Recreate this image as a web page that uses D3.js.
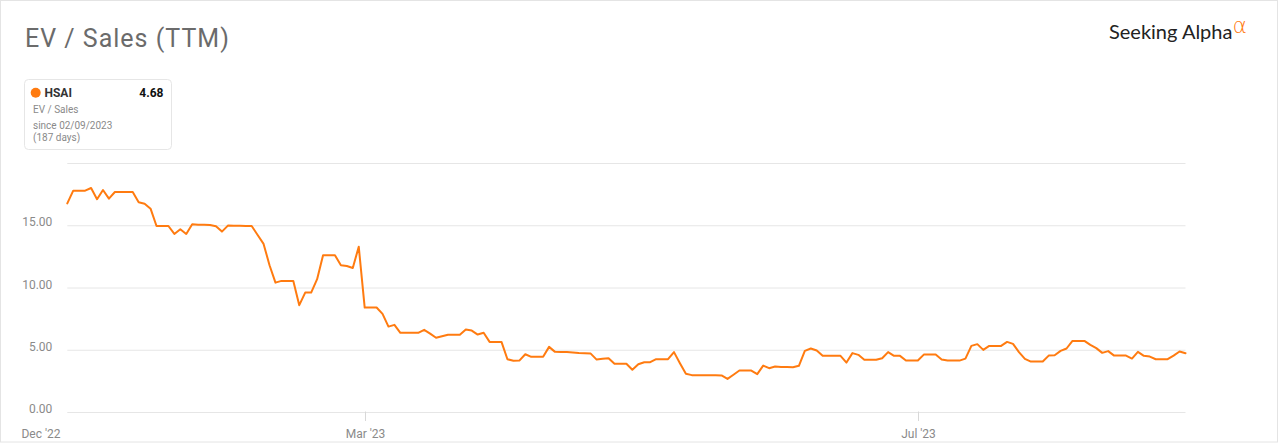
<!DOCTYPE html>
<html>
<head>
<meta charset="utf-8">
<script src="https://cdn.jsdelivr.net/npm/d3@7"></script>
<style>
  html, body { margin: 0; padding: 0; background: #fff; }
  svg { display: block; font-family: Roboto, "Noto Sans", Arial, sans-serif; }
</style>
</head>
<body>
<svg id="chart" width="1280" height="443"></svg>
<script>
// ---- data ----
const seriesName = "HSAI";
const lastValue = "4.68";
const metricLabel = "EV / Sales";
const sinceLabel = "since 02/09/2023";
const daysLabel = "(187 days)";
const title = "EV / Sales (TTM)";

const values = [
  16.72, 17.74, 17.74, 17.74, 17.95, 17.05, 17.79, 17.10, 17.63, 17.63,
  17.63, 17.63, 16.80, 16.69, 16.29, 14.90, 14.90, 14.90, 14.26, 14.64,
  14.26, 15.04, 15.00, 15.00, 14.98, 14.88, 14.45, 14.93, 14.92, 14.92,
  14.90, 14.90, 14.18, 13.46, 11.75, 10.35, 10.49, 10.49, 10.49, 8.54,
  9.55, 9.55, 10.63, 12.55, 12.55, 12.55, 11.75, 11.69, 11.53, 13.24,
  8.35, 8.35, 8.35, 7.84, 6.82, 6.96, 6.32, 6.32, 6.32, 6.32,
  6.56, 6.26, 5.92, 6.04, 6.16, 6.16, 6.16, 6.58, 6.50, 6.18,
  6.32, 5.59, 5.59, 5.59, 4.20, 4.07, 4.09, 4.60, 4.39, 4.39,
  4.39, 5.19, 4.79, 4.78, 4.77, 4.73, 4.69, 4.67, 4.65, 4.17,
  4.23, 4.28, 3.83, 3.83, 3.83, 3.35, 3.80, 3.96, 3.96, 4.20,
  4.20, 4.20, 4.77, 3.88, 3.03, 2.92, 2.92, 2.92, 2.92, 2.92,
  2.90, 2.62, 2.95, 3.29, 3.29, 3.29, 3.00, 3.69, 3.48, 3.61,
  3.58, 3.57, 3.56, 3.67, 4.87, 5.06, 4.90, 4.47, 4.47, 4.47,
  4.47, 3.93, 4.69, 4.55, 4.15, 4.15, 4.15, 4.28, 4.77, 4.47,
  4.47, 4.09, 4.09, 4.09, 4.57, 4.57, 4.57, 4.17, 4.09, 4.09,
  4.09, 4.25, 5.27, 5.41, 4.95, 5.27, 5.27, 5.27, 5.59, 5.43,
  4.77, 4.23, 4.01, 4.01, 4.01, 4.49, 4.52, 4.87, 5.06, 5.67,
  5.67, 5.67, 5.35, 5.09, 4.71, 4.85, 4.49, 4.49, 4.49, 4.25,
  4.79, 4.47, 4.41, 4.20, 4.20, 4.20, 4.49, 4.82, 4.68
];

const xTickLabels = ["Dec '22", "Mar '23", "Jul '23"];
const xTickIndex = [0, 50, 143];
const yTicks = [0, 5, 10, 15, 20];
const yTickLabels = ["0.00", "5.00", "10.00", "15.00", ""];

// ---- layout ----
const svg = d3.select("#chart");
const W = 1280, H = 443;
const plot = { left: 67.3, right: 1185.5, top: 162.5, bottom: 411.5 };
const orange = "#ff7b10";

svg.append("rect")
  .attr("x", 0.5).attr("y", 0.5).attr("width", W - 3).attr("height", H - 1.5)
  .attr("fill", "#fff").attr("stroke", "#e4e4e4");

const x = d3.scaleLinear().domain([0, values.length - 1]).range([plot.left, plot.right]);
const y = d3.scaleLinear().domain([0, 20]).range([plot.bottom, plot.top]);

// gridlines + y labels
const yAxis = d3.axisLeft(y).tickValues(yTicks)
  .tickSize(-(plot.right - plot.left))
  .tickPadding(15)
  .tickFormat((d, i) => yTickLabels[i]);
const gy = svg.append("g").attr("transform", `translate(${plot.left},0)`).call(yAxis);
gy.select(".domain").remove();
gy.selectAll(".tick line").attr("stroke", "#e6e6e6").attr("stroke-width", 1)
  .attr("transform", "translate(0,0.5)");
gy.selectAll(".tick text").attr("fill", "#8a8a8a").style("font-size", "12px")
  .style("font-family", "Roboto, sans-serif").attr("dy", "0.1em");

// x axis
const gx = svg.append("g").attr("transform", `translate(0,${plot.bottom})`);
xTickIndex.forEach((idx, i) => {
  const px = Math.round(x(idx)) + 0.5;
  if (i > 0) {
    gx.append("line").attr("x1", px).attr("x2", px).attr("y1", 0).attr("y2", 9.5)
      .attr("stroke", "#d8d8d8");
  }
  gx.append("text")
    .attr("x", i === 0 ? px - 7 : px)
    .attr("y", 26)
    .attr("text-anchor", i === 0 ? "end" : "middle")
    .attr("fill", "#8a8a8a")
    .style("font-size", "12px")
    .text(xTickLabels[i]);
});

// line
const line = d3.line().x((d, i) => x(i)).y(d => y(d)).curve(d3.curveLinear);
svg.append("path").datum(values)
  .attr("d", line)
  .attr("fill", "none")
  .attr("stroke", orange)
  .attr("stroke-width", 2)
  .attr("stroke-linejoin", "round")
  .attr("stroke-linecap", "round");

// title
svg.append("text").attr("x", 25).attr("y", 47)
  .attr("fill", "#6b6b6b")
  .style("font-size", "25px")
  .style("letter-spacing", "1px")
  .text(title);

// legend box
const lg = svg.append("g");
lg.append("rect").attr("x", 24.5).attr("y", 79.5).attr("width", 147).attr("height", 70)
  .attr("rx", 4).attr("fill", "#fff").attr("stroke", "#e6e6e6");
lg.append("circle").attr("cx", 35.7).attr("cy", 92.7).attr("r", 5).attr("fill", orange);
lg.append("text").attr("x", 44.5).attr("y", 97).attr("fill", "#333")
  .style("font-size", "12px").style("font-weight", "700").text(seriesName);
lg.append("text").attr("x", 163.5).attr("y", 97).attr("text-anchor", "end").attr("fill", "#111")
  .style("font-size", "12px").style("font-weight", "700").text(lastValue);
lg.append("text").attr("x", 33).attr("y", 113.3).attr("fill", "#8a8a8a")
  .style("font-size", "10px").text(metricLabel);
lg.append("text").attr("x", 33).attr("y", 129).attr("fill", "#8a8a8a")
  .style("font-size", "10px").text(sinceLabel);
lg.append("text").attr("x", 33).attr("y", 140.5).attr("fill", "#8a8a8a")
  .style("font-size", "10px").text(daysLabel);

// logo
const logo = svg.append("g");
logo.append("text").attr("x", 1109).attr("y", 38.5).attr("fill", "#222")
  .style("font-size", "20px").style("font-family", "Lato, 'Open Sans', sans-serif")
  .text("Seeking Alpha");
logo.append("text").attr("x", 1232.5).attr("y", 33.3).attr("fill", orange)
  .style("font-size", "22px").style("font-weight", "200")
  .style("font-family", "'DejaVu Sans', sans-serif")
  .text("α");
</script>
</body>
</html>
